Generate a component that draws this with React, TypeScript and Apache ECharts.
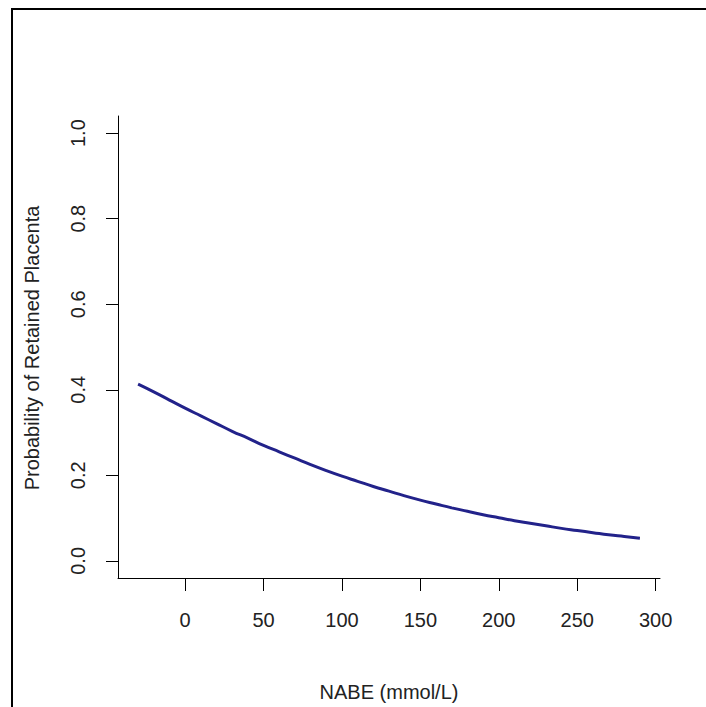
import React, { useEffect, useRef } from "react";
import * as echarts from "echarts";

const nabe = [-30, -20, -10, 0, 10, 20, 30, 40, 50, 60, 70, 80, 90, 100, 110, 120, 130, 140, 150, 160, 170, 180, 190, 200, 210, 220, 230, 240, 250, 260, 270, 280, 290];
const probability = [0.413, 0.395, 0.376, 0.357, 0.339, 0.321, 0.303, 0.287, 0.27, 0.255, 0.24, 0.225, 0.211, 0.198, 0.186, 0.174, 0.163, 0.152, 0.142, 0.133, 0.124, 0.116, 0.108, 0.101, 0.094, 0.088, 0.082, 0.076, 0.071, 0.066, 0.061, 0.057, 0.053];
const xTicks = [0, 50, 100, 150, 200, 250, 300];
const yTicks = [0, 0.2, 0.4, 0.6, 0.8, 1.0];
const xTitle = "NABE (mmol/L)";
const yTitle = "Probability of Retained Placenta";

export default function App() {
  const ref = useRef<HTMLDivElement>(null);
  useEffect(() => {
    if (!ref.current) return;
    const chart = echarts.init(ref.current, undefined, { renderer: "svg" });
    const font = "'Liberation Sans', Arial, sans-serif";
    chart.setOption({
      animation: false,
      backgroundColor: "#ffffff",
      grid: { left: 118, top: 116, right: 46, bottom: 127, containLabel: false },
      xAxis: {
        type: "value",
        min: -42.8,
        max: 302.8,
        name: xTitle,
        nameLocation: "middle",
        nameGap: 104,
        nameTextStyle: { fontFamily: font, fontSize: 20, color: "#222" },
        axisLine: { show: true, onZero: false, lineStyle: { color: "#000", width: 1 } },
        axisTick: { show: true, length: 13, customValues: xTicks, lineStyle: { color: "#000" } },
        axisLabel: {
          show: true,
          customValues: xTicks,
          margin: 32,
          fontFamily: font,
          fontSize: 20,
          color: "#222",
        },
        splitLine: { show: false },
      },
      yAxis: {
        type: "value",
        min: -0.04,
        max: 1.04,
        axisLine: { show: true, onZero: false, lineStyle: { color: "#000", width: 1 } },
        axisTick: { show: true, length: 12, customValues: yTicks, lineStyle: { color: "#000" } },
        axisLabel: {
          show: true,
          customValues: yTicks,
          rotate: 90,
          margin: 30,
          fontFamily: font,
          fontSize: 20,
          color: "#222",
          formatter: (v: number) => v.toFixed(1),
        },
        splitLine: { show: false },
      },
      graphic: [
        { type: "rect", shape: { x: 11, y: 8, width: 2, height: 710 }, style: { fill: "#000" } },
        { type: "rect", shape: { x: 11, y: 8, width: 710, height: 2 }, style: { fill: "#000" } },
        {
          type: "text",
          x: 32,
          y: 348,
          rotation: Math.PI / 2,
          style: {
            text: yTitle,
            fontFamily: font,
            fontSize: 20,
            fill: "#222",
            align: "center",
            verticalAlign: "middle",
          },
        },
      ],
      series: [
        {
          type: "line",
          data: nabe.map((x, i) => [x, probability[i]]),
          showSymbol: false,
          smooth: true,
          lineStyle: { color: "#22228a", width: 3 },
        },
      ],
    });
    return () => chart.dispose();
  }, []);
  return <div ref={ref} style={{ position: "fixed", left: 0, top: 0, width: 706, height: 707 }} />;
}
